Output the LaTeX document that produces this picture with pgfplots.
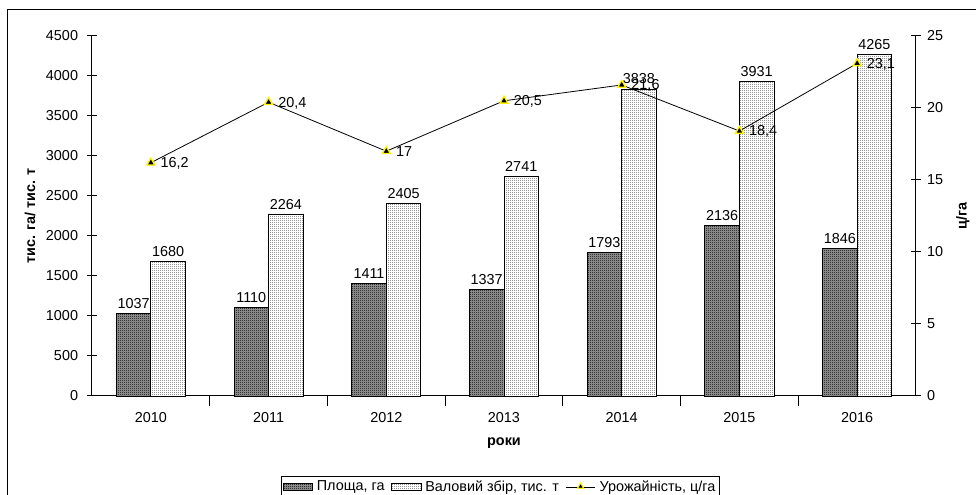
\documentclass[border=0pt]{standalone}
\usepackage{fontspec}
\setmainfont{Liberation Sans}
\usepackage{pgfplots}
\pgfplotsset{compat=1.18}
\usetikzlibrary{patterns,shapes.geometric}
\pgfdeclarepatternformonly{fdots}{\pgfqpoint{-0.2pt}{-0.2pt}}{\pgfqpoint{1.7pt}{1.7pt}}{\pgfqpoint{1.5pt}{1.5pt}}{%
  \pgfpathrectangle{\pgfqpoint{0pt}{0pt}}{\pgfqpoint{0.75pt}{0.75pt}}\pgfusepath{fill}}
\definecolor{bardark}{HTML}{888888}
\definecolor{bardots}{HTML}{333333}
\definecolor{lightdots}{HTML}{959595}
\pgfplotsset{
  /pgf/number format/.cd, use comma, 1000 sep={}, assume math mode=true,
}
\newcommand{\cf}{\fontsize{10.8}{12.5}\selectfont}
\begin{document}
\begin{tikzpicture}[font=\cf]
\useasboundingbox (-69pt,-74.25pt) rectangle (663pt,297pt);
\draw[line width=0.75pt] (-63pt,-80pt) -- (-63pt,289.5pt) -- (670pt,289.5pt);
\begin{axis}[
  at={(0,0)}, anchor=south west, scale only axis,
  width=618pt, height=270pt,
  xmin=-0.5, xmax=6.5, ymin=0, ymax=4500,
  ytick={0,500,...,4500},
  xtick={0.5,1.5,...,5.5}, xticklabels={},
  extra x ticks={0,1,2,3,4,5,6},
  extra x tick labels={2010,2011,2012,2013,2014,2015,2016},
  extra x tick style={major tick length=0pt},
  axis x line=bottom, axis y line=left,
  axis line style={-, line width=0.75pt},
  tick align=center, major tick length=7.5pt,
  tick style={black, line width=0.75pt},
  ticklabel style={font=\cf},
  xticklabel style={yshift=-8.5pt},
  yticklabel style={xshift=-3.2pt},
  ybar=0pt, bar width=25.9pt,
  ylabel={\textbf{тис. га/ тис. т}},
  ylabel style={at={(axis description cs:-0.0752,0.5)}, anchor=center},
  xlabel={\textbf{роки}},
  xlabel style={at={(axis description cs:0.5,-0.13)}, anchor=center},
  nodes near coords,
  every node near coord/.append style={font=\cf, yshift=0pt},
  legend style={at={(0.4957,-0.222)}, anchor=north, legend columns=-1,
    draw=black, line width=0.75pt, inner sep=1.2pt,
    font=\cf,
    /tikz/every odd column/.append style={column sep=1pt},
    /tikz/every even column/.append style={column sep=3pt}},
  legend image code/.code={\draw[#1, line width=0.5pt] (0pt,-2.8pt) rectangle (22pt,2.8pt);},
  clip=false,
]
\addplot[draw=black, line width=0.6pt, fill=bardark, postaction={pattern=fdots, pattern color=bardots}]
  coordinates {(0,1037) (1,1110) (2,1411) (3,1337) (4,1793) (5,2136) (6,1846)};
\addplot[draw=black, line width=0.6pt, fill=white, postaction={pattern=fdots, pattern color=lightdots}]
  coordinates {(0,1680) (1,2264) (2,2405) (3,2741) (4,3838) (5,3931) (6,4265)};
\addlegendimage{legend image code/.code={
  \draw[black, line width=0.6pt] (0pt,0pt) -- (22pt,0pt);
  \node[draw=yellow, fill=black, line width=0.8pt, regular polygon, regular polygon sides=3, inner sep=0pt, minimum size=5.5pt] at (11pt,0.3pt) {};}}
\legend{{Площа, га}, {Валовий збір, тис. т}, {Урожайність, ц/га}}
\end{axis}
\begin{axis}[
  at={(0,0)}, anchor=south west, scale only axis,
  width=618pt, height=270pt,
  xmin=-0.5, xmax=6.5, ymin=0, ymax=25,
  ytick={0,5,...,25},
  axis x line=none, axis y line=right,
  axis line style={-, line width=0.75pt},
  tick align=center, major tick length=7.5pt,
  tick style={black, line width=0.75pt},
  ticklabel style={font=\cf},
  yticklabel style={xshift=1pt},
  ylabel={\textbf{ц/га}},
  ylabel style={at={(axis description cs:1.057,0.5)}, anchor=center, rotate=0},
  clip=false,
]
\addplot[black, line width=0.6pt, mark=triangle*, mark size=3.5pt,
  mark options={fill=black, draw=yellow, line width=1pt},
  nodes near coords, point meta=explicit,
  every node near coord/.append style={anchor=west, xshift=3.5pt, yshift=-0.5pt, font=\cf}]
  coordinates {(0,16.2)[16.2] (1,20.4)[20.4] (2,17)[17] (3,20.5)[20.5] (4,21.6)[21.6] (5,18.4)[18.4] (6,23.1)[23.1]};
\end{axis}
\end{tikzpicture}
\end{document}
